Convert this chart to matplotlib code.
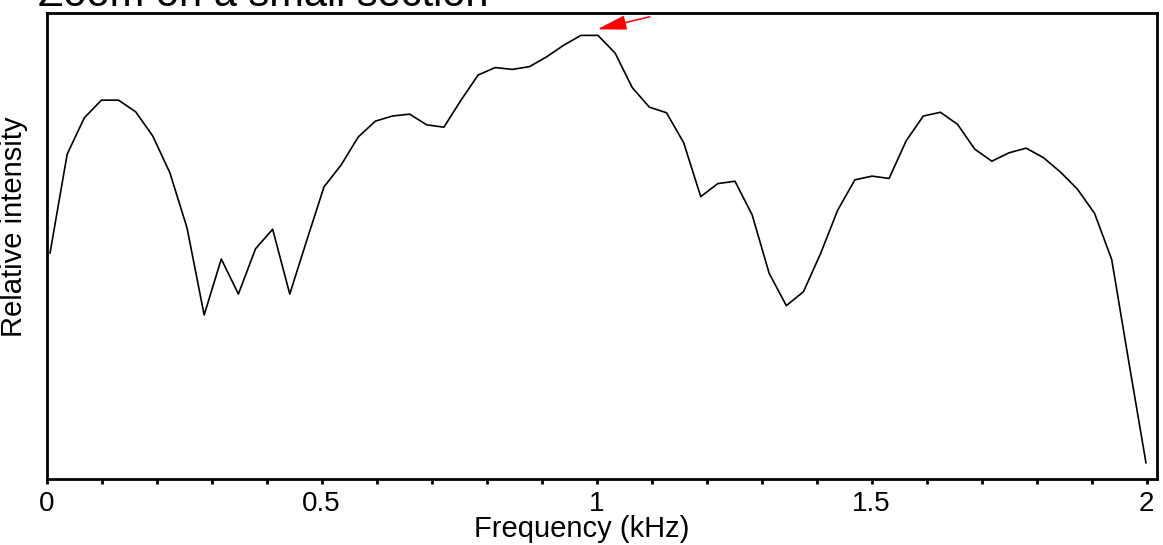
import numpy as np
import matplotlib
matplotlib.use('Agg')
import matplotlib.pyplot as plt
from matplotlib.ticker import MultipleLocator, NullLocator

plt.rcParams['font.family'] = ['Liberation Sans', 'DejaVu Sans']

# Spectrum (65 bins, 0 - 2 kHz)
freq_khz = np.linspace(0.0064, 1.999, 65)
intensity = [0.485, 0.697, 0.775, 0.813, 0.813, 0.788, 0.736, 0.657, 0.539, 0.352,
             0.472, 0.397, 0.494, 0.536, 0.397, 0.513, 0.627, 0.674, 0.734, 0.768,
             0.779, 0.783, 0.760, 0.755, 0.813, 0.867, 0.883, 0.879, 0.885, 0.906,
             0.931, 0.952, 0.952, 0.914, 0.840, 0.798, 0.786, 0.722, 0.606, 0.634,
             0.639, 0.567, 0.441, 0.372, 0.402, 0.484, 0.577, 0.642, 0.650, 0.645,
             0.726, 0.779, 0.787, 0.761, 0.708, 0.682, 0.700, 0.710, 0.690, 0.659,
             0.622, 0.570, 0.471, 0.251, 0.035]
x_ticks = [0, 0.5, 1, 1.5, 2]
x_ticklabels = ['0', '0.5', '1', '1.5', '2']

# peak marker (arrow tip / tail)
arrow_tip = (1.0015, 0.965)
arrow_tail = (1.097, 0.992)

fig = plt.figure(figsize=(11.63, 5.45), dpi=100)
ax = fig.add_axes([0.040, 0.1211, 0.9548, 0.855])

ax.plot(freq_khz, intensity, color='black', linewidth=1.2)

ax.set_xlim(0, 2.019)
ax.set_ylim(0, 1)
ax.set_xticks(x_ticks)
ax.set_xticklabels(x_ticklabels)
ax.xaxis.set_minor_locator(MultipleLocator(0.1))
ax.yaxis.set_major_locator(NullLocator())
ax.tick_params(axis='x', which='both', direction='out', length=3.5, width=2,
               labelsize=20, pad=5)
for sp in ax.spines.values():
    sp.set_linewidth(2)

ax.set_xlabel('Frequency (kHz)', fontsize=21)
ax.xaxis.set_label_coords(0.482, -0.078)
ax.set_ylabel('Relative intensity', fontsize=21)
ax.yaxis.set_label_coords(-0.017, 0.541)

ax.annotate('', xy=arrow_tip, xytext=arrow_tail,
            arrowprops=dict(arrowstyle='-|>,head_length=1.8,head_width=0.45',
                            color='red', lw=1.1, mutation_scale=10,
                            shrinkA=0, shrinkB=0))

fig.text(0.0327, 0.989, 'Zoom on a small section', fontsize=30, va='baseline')

plt.savefig('out.png', dpi=100)
